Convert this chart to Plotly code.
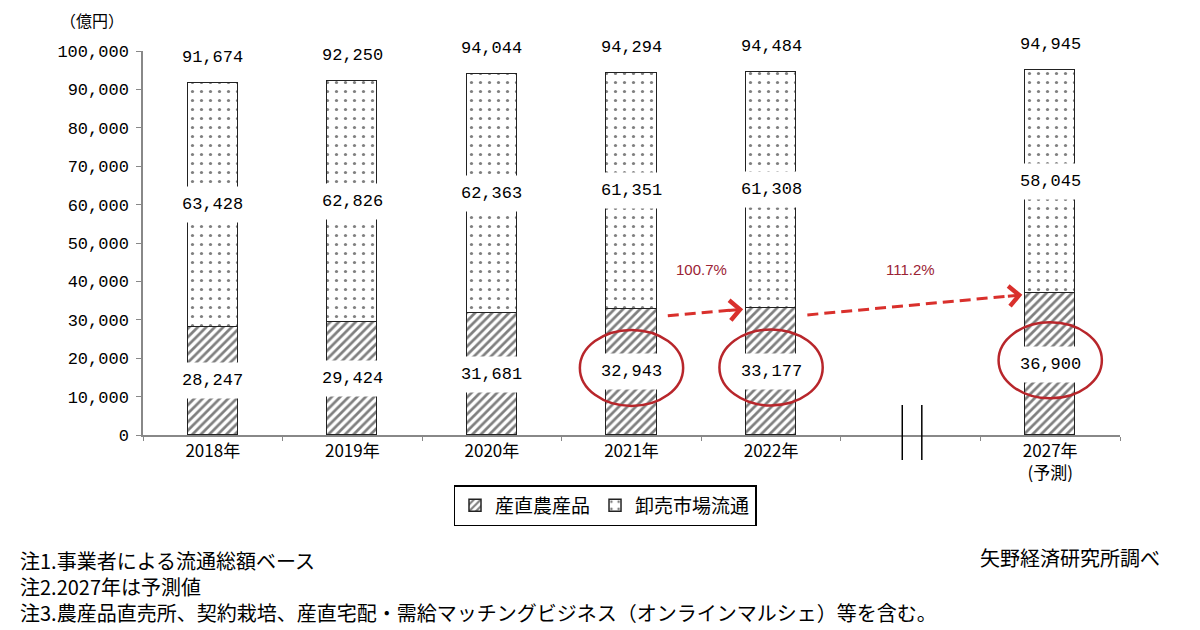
import math
import plotly.graph_objects as go

# ---- data ----
x_pos = [0, 1, 2, 3, 4, 6]
tick_pos = [0, 1, 2, 3, 4, 5, 6]
tick_text = ["2018年", "2019年", "2020年", "2021年", "2022年", "", "2027年<br>(予測)"]
direct = [28247, 29424, 31681, 32943, 33177, 36900]        # 産直農産品
wholesale = [63428, 62826, 62363, 61351, 61308, 58045]     # 卸売市場流通
totals = [91674, 92250, 94044, 94294, 94484, 94945]
growth = ["100.7%", "111.2%"]
series_names = ["産直農産品", "卸売市場流通"]
notes = [
    "注1.事業者による流通総額ベース",
    "注2.2027年は予測値",
    "注3.農産品直売所、契約栽培、産直宅配・需給マッチングビジネス（オンラインマルシェ）等を含む。",
]
source = "矢野経済研究所調べ"

JP = "Noto Sans CJK JP"
NUM = "Liberation Mono"

OFF = 8  # page body margin
FW, FH = 1200 - OFF, 630 - OFF
# plot area in page pixels (reference)
L, R, T, B = 143, 1120, 51, 435
W, H = R - L, B - T
YMAX = 100000


def px(xp):
    return (xp - L) / W


def py(yp):
    return (B - yp) / H


fig = go.Figure()
fig.add_trace(go.Bar(
    x=x_pos, y=direct, name=series_names[0], width=0.36,
    marker=dict(color="white", line=dict(color="#222", width=1.5),
                pattern=dict(shape="/", fgcolor="black", bgcolor="white", size=6, solidity=0.45)),
))
fig.add_trace(go.Bar(
    x=x_pos, y=wholesale, name=series_names[1], width=0.36,
    marker=dict(color="white", line=dict(color="#222", width=1.5),
                pattern=dict(shape=".", fgcolor="black", bgcolor="white", size=9, solidity=0.1)),
))

annotations = []
for xi, d, w, t in zip(x_pos, direct, wholesale, totals):
    annotations.append(dict(x=xi, y=d / 2, text=f"{d:,}", showarrow=False, bgcolor="white",
                            borderpad=8, font=dict(family=NUM, size=17, color="black")))
    annotations.append(dict(x=xi, y=d + w / 2, text=f"{w:,}", showarrow=False, bgcolor="white",
                            borderpad=8, font=dict(family=NUM, size=17, color="black")))
    annotations.append(dict(x=xi, y=t, text=f"{t:,}", showarrow=False, yanchor="bottom", yshift=14,
                            font=dict(family=NUM, size=17, color="black")))

shapes = []
# red ellipses around highlighted labels
for idx in [3, 4, 5]:
    xc, yc = x_pos[idx], direct[idx] / 2 + 1000
    shapes.append(dict(type="circle", xref="x", yref="y", x0=xc - 0.37, x1=xc + 0.37,
                       y0=yc - 9900, y1=yc + 9900, line=dict(color="#b8262b", width=2.5)))

# dashed growth arrows (indices into the data lists)
arrow_red = "#d9302c"
xunit = W / 7.0
yunit = H / YMAX
head = 12  # px
arrows = [(3, 4), (4, 5)]
for (i, j), g in zip(arrows, growth):
    xs, ys = x_pos[i] + 0.26, direct[i] - 1900
    xe, ye = x_pos[j] - 0.2, direct[j] - 400
    dxp = (xe - xs) * xunit
    dyp = -(ye - ys) * yunit
    ln = math.hypot(dxp, dyp)
    ux, uy = dxp / ln, dyp / ln
    xb = xe - ux * head / xunit
    yb = ye + uy * head / yunit
    shapes.append(dict(type="line", xref="x", yref="y", x0=xs, y0=ys, x1=xb, y1=yb,
                       line=dict(color=arrow_red, width=3, dash="11px,6px")))
    annotations.append(dict(x=xe, y=ye, ax=-ux * (head + 4), ay=-uy * (head + 4),
                            xref="x", yref="y", text="", showarrow=True,
                            arrowhead=4, arrowsize=1.3, arrowwidth=3, arrowcolor=arrow_red))
    annotations.append(dict(x=(x_pos[i] + x_pos[j]) / 2, y=43000, text=g, showarrow=False,
                            font=dict(family="Liberation Sans", size=15, color="#9b2335")))

# axis break marks
for xb in [4.94, 5.08]:
    shapes.append(dict(type="line", xref="x", yref="paper", x0=xb, x1=xb, y0=py(460), y1=py(405),
                       line=dict(color="black", width=1.5)))

# y-axis unit
annotations.append(dict(xref="paper", yref="paper", x=px(58), y=py(20), text="（億円）", showarrow=False,
                        xanchor="left", yanchor="middle", font=dict(family=JP, size=16, color="black")))
# notes (one block, line spacing matches reference)
annotations.append(dict(xref="paper", yref="paper", x=px(18), y=py(544), text="<br>".join(notes),
                        showarrow=False, xanchor="left", yanchor="top", align="left",
                        font=dict(family=JP, size=20, color="black")))
annotations.append(dict(xref="paper", yref="paper", x=px(1162), y=py(557), text=source,
                        showarrow=False, xanchor="right", yanchor="middle",
                        font=dict(family=JP, size=20, color="black")))

fig.update_layout(
    width=FW, height=FH,
    margin=dict(l=L - OFF, r=FW - (R - OFF), t=T - OFF, b=FH - (B - OFF), autoexpand=False),
    paper_bgcolor="white", plot_bgcolor="white",
    barmode="stack", bargap=0,
    showlegend=True,
    legend=dict(orientation="h", x=px(605), y=py(485), xanchor="center", yanchor="top",
                traceorder="normal",
                bordercolor="black", borderwidth=1.5, bgcolor="white",
                font=dict(family=JP, size=19, color="black"), itemwidth=30),
    annotations=annotations, shapes=shapes,
    xaxis=dict(range=[-0.5, 6.5], tickmode="array", tickvals=tick_pos, ticktext=tick_text,
               ticks="", showline=True, linecolor="#888", linewidth=1.5, showgrid=False, zeroline=False,
               tickfont=dict(family=JP, size=17, color="black"),
               minor=dict(tickvals=[-0.5, 0.5, 1.5, 2.5, 3.5, 4.5, 5.5, 6.5], ticks="outside",
                          ticklen=4, tickcolor="#888")),
    yaxis=dict(range=[0, YMAX], tickvals=list(range(0, YMAX + 1, 10000)),
               ticktext=[f"{v:,}" for v in range(0, YMAX + 1, 10000)],
               ticks="outside", ticklen=5, tickcolor="#888", showline=True, linecolor="#888",
               linewidth=1.5, showgrid=False, zeroline=False, ticklabelstandoff=4,
               tickfont=dict(family=NUM, size=17, color="black")),
)

fig.write_html("out.html")
